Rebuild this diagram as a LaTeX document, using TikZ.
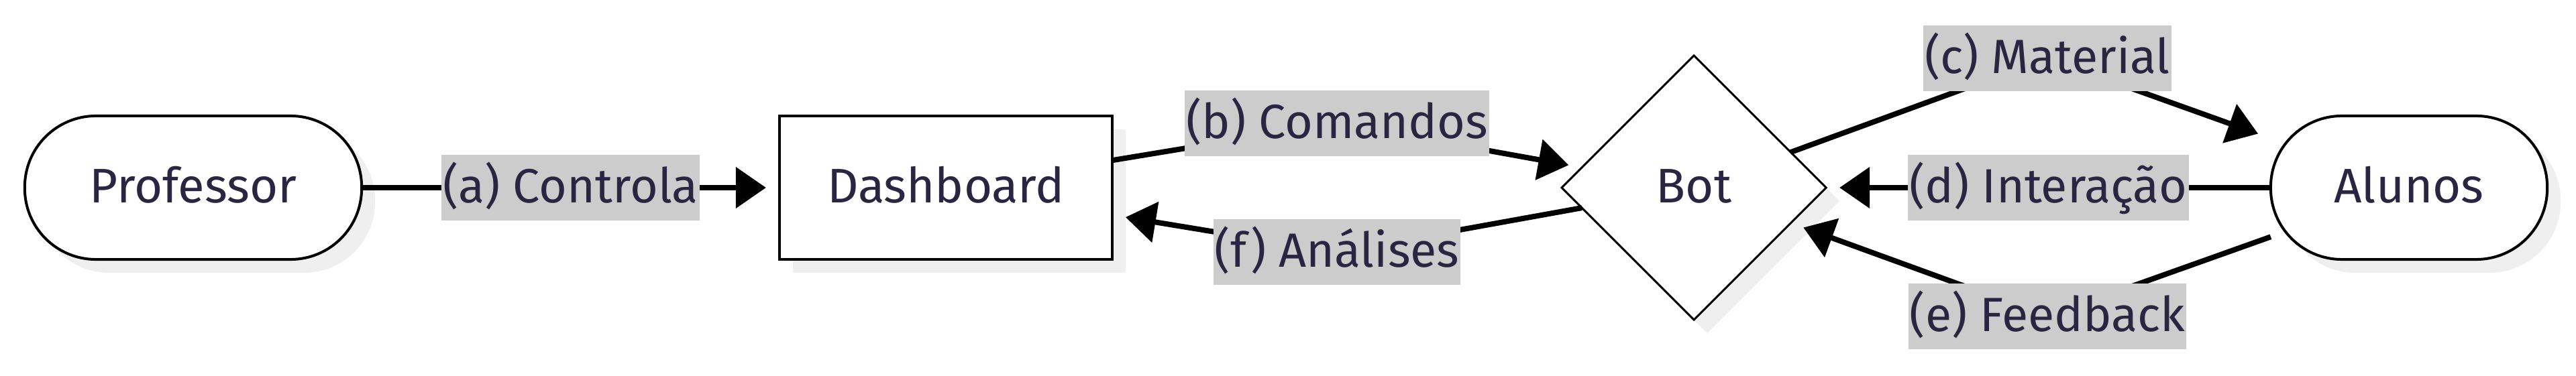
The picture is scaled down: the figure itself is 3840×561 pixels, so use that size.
\documentclass[tikz,border=0pt]{standalone}
\usepackage{fontspec}
\setmainfont{Fira Sans}
\usetikzlibrary{shapes.geometric,arrows.meta,shadows}
\definecolor{txt}{HTML}{2A2641}
\definecolor{lblbg}{HTML}{CCCCCC}
\definecolor{shd}{HTML}{EFEFEF}
\tikzset{
  base/.style={draw=black, fill=white, text=txt, line width=0.04cm, inner sep=0pt, outer sep=0pt,
    font=\fontsize{20.6}{24}\selectfont, text height=0.6cm, text depth=0.16cm,
    drop shadow={shadow xshift=0.2cm, shadow yshift=-0.2cm, fill=shd, opacity=1}},
  stadium/.style={base, rectangle, rounded corners=1.06cm, minimum height=2.14cm},
  boxnode/.style={base, rectangle, minimum height=2.14cm, minimum width=4.96cm},
  decision/.style={base, diamond, aspect=1, line width=0.03cm, minimum width=3.94cm, minimum height=3.94cm},
  lbl/.style={fill=lblbg, text=txt, inner xsep=0.02cm, inner ysep=0pt, minimum height=0.98cm,
    text height=0.6cm, text depth=0.16cm, font=\fontsize{20.4}{24}\selectfont},
  edge/.style={line width=0.08cm, -{Triangle[length=0.45cm,width=0.6cm]}, shorten >=0.2cm}
}
\begin{document}
\begin{tikzpicture}[x=0.01cm,y=-0.01cm]
\useasboundingbox (0,0) rectangle (3840,561);
\node[stadium, minimum width=5.02cm] (prof) at (288,280) {Professor};
\node[boxnode] (dash) at (1410,280) {Dashboard};
\node[decision] (bot) at (2525,280) {Bot};
\node[stadium, minimum width=4.12cm] (alunos) at (3591,280) {Alunos};
\coordinate (bB) at (1993,184);
\coordinate (bF) at (1993,376);
\coordinate (bC) at (3052,87);
\coordinate (bE) at (3052,472);
\draw[edge] (prof) -- node[lbl] (la) {(a) Controla} (dash);
\draw[edge] (dash) -- (bB) -- (bot);
\draw[edge] (bot) -- (bF) -- (dash);
\draw[edge] (bot) -- (bC) -- (alunos);
\draw[edge] (alunos) -- node[lbl] (ld) {(d) Interação} (bot);
\draw[edge] (alunos) -- (bE) -- (bot);
\node[lbl] (lb) at (bB) {(b) Comandos};
\node[lbl] (lf) at (bF) {(f) Análises};
\node[lbl] (lc) at (bC) {(c) Material};
\node[lbl] (le) at (bE) {(e) Feedback};
\end{tikzpicture}
\end{document}
